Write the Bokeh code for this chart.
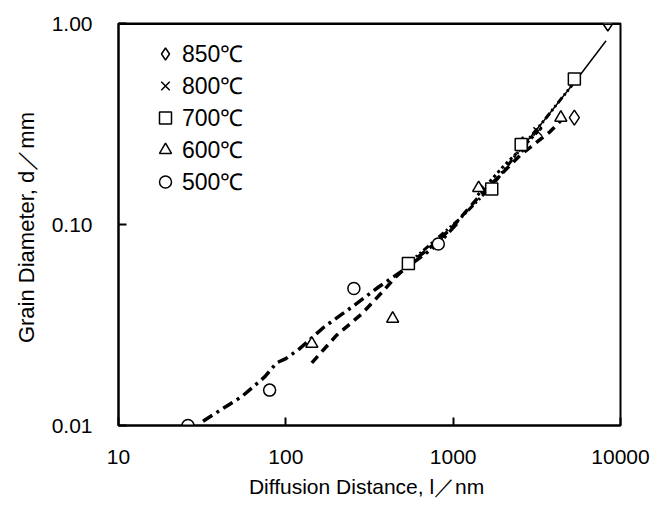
from bokeh.plotting import figure
from bokeh.models import FixedTicker, Legend, LegendItem, Span
from bokeh.embed import file_html
from bokeh.resources import INLINE

FONT = "Liberation Sans"

# ---- measured points ----
x850 = [2600, 5300, 8400]
y850 = [0.25, 0.34, 1.0]
x800 = [1550, 2650, 3200]
y800 = [0.15, 0.245, 0.29]
x700 = [540, 1700, 2550, 5300]
y700 = [0.064, 0.15, 0.25, 0.53]
x600 = [143, 435, 1420, 4400]
y600 = [0.0255, 0.034, 0.152, 0.34]
x500 = [26, 80, 255, 815]
y500 = [0.01, 0.015, 0.048, 0.08]

# ---- fitted curves ----
f500_x = [32, 55, 75, 88, 100, 120, 170, 250, 360, 500, 815, 1100]
f500_y = [0.0105, 0.014, 0.0175, 0.0205, 0.0215, 0.024, 0.031, 0.039, 0.049, 0.059, 0.08, 0.105]
f600_x = [143, 200, 285, 385, 445, 540, 800, 1000, 1450, 2500, 3800, 4500]
f600_y = [0.0205, 0.028, 0.036, 0.047, 0.054, 0.063, 0.082, 0.098, 0.14, 0.22, 0.29, 0.335]
f700_x = [540, 800, 1100, 1700, 2600, 3500, 4300, 5300]
f700_y = [0.064, 0.085, 0.107, 0.155, 0.245, 0.33, 0.41, 0.51]
f800_x = [1400, 2000, 2700, 3400]
f800_y = [0.14, 0.195, 0.25, 0.305]
f850_x = [2500, 3500, 4500, 5500, 8200]
f850_y = [0.235, 0.33, 0.43, 0.53, 0.82]

labels = ["850℃", "800℃", "700℃", "600℃", "500℃"]
x_ticks = [10, 100, 1000, 10000]
x_tick_labels = ["10", "100", "1000", "10000"]
y_ticks = [0.01, 0.1, 1.0]
y_tick_labels = ["0.01", "0.10", "1.00"]

p = figure(width=650, height=516, x_axis_type="log", y_axis_type="log",
           x_range=(10, 10000), y_range=(0.01, 1.0),
           output_backend="svg", toolbar_location=None,
           min_border_left=118, min_border_right=30,
           min_border_top=23, min_border_bottom=91)
p.background_fill_color = "white"
p.border_fill_color = "white"
p.grid.visible = False
p.outline_line_color = "black"
p.outline_line_width = 2

for ax in (p.xaxis[0], p.yaxis[0]):
    ax.axis_line_width = 2
    ax.major_tick_line_width = 2
    ax.major_tick_in = 8
    ax.major_tick_out = 0
    ax.minor_tick_line_color = None
    ax.major_label_text_font = FONT
    ax.major_label_text_font_size = "21px"
    ax.major_label_text_color = "black"
    ax.axis_label_text_font = FONT
    ax.axis_label_text_font_style = "normal"
    ax.axis_label_text_color = "black"

p.xaxis.axis_label_text_font_size = "21px"
p.yaxis.axis_label_text_font_size = "22px"
p.xaxis.ticker = FixedTicker(ticks=x_ticks)
p.xaxis.major_label_overrides = dict(zip(x_ticks, x_tick_labels))
p.yaxis.ticker = FixedTicker(ticks=y_ticks)
p.yaxis.major_label_overrides = dict(zip(y_ticks, y_tick_labels))
p.xaxis.major_label_standoff = 24
p.yaxis.major_label_standoff = 26
p.xaxis.axis_label = "Diffusion Distance,  l／nm"
p.yaxis.axis_label = "Grain Diameter,  d／mm"
p.xaxis.axis_label_standoff = 8
p.yaxis.axis_label_standoff = 10

p.add_layout(Span(location=1.0, dimension="width", line_color="black", line_width=3))

# fitted curves
p.line(f500_x, f500_y, line_color="black", line_width=3.5, line_dash="11 5 3 5")
p.line(f600_x, f600_y, line_color="black", line_width=3.5, line_dash="9 6")
p.line(f700_x, f700_y, line_color="black", line_width=3, line_dash="7 3 2 3 2 3")
p.line(f800_x, f800_y, line_color="black", line_width=3, line_dash="3 3")
p.line(f850_x, f850_y, line_color="black", line_width=1.5)

kw = dict(size=12, fill_color="white", line_color="black", line_width=1.5)
r850 = p.scatter(x850, y850, marker="diamond", size=15, fill_color="white", line_color="black", line_width=1.5)
r800 = p.scatter(x800, y800, marker="x", **kw)
r700 = p.scatter(x700, y700, marker="square", **kw)
r600 = p.scatter(x600, y600, marker="triangle", **kw)
r500 = p.scatter(x500, y500, marker="circle", **kw)

legend = Legend(items=[LegendItem(label=l, renderers=[r]) for l, r in
                       zip(labels, [r850, r800, r700, r600, r500])],
                location=(32, 228), padding=0, margin=0, spacing=0,
                glyph_width=30, glyph_height=31, label_height=31,
                label_standoff=2, border_line_color=None,
                background_fill_alpha=0,
                label_text_font=FONT, label_text_font_size="23px",
                label_text_color="black")
p.add_layout(legend)

open("out.html", "w").write(file_html(p, INLINE))
